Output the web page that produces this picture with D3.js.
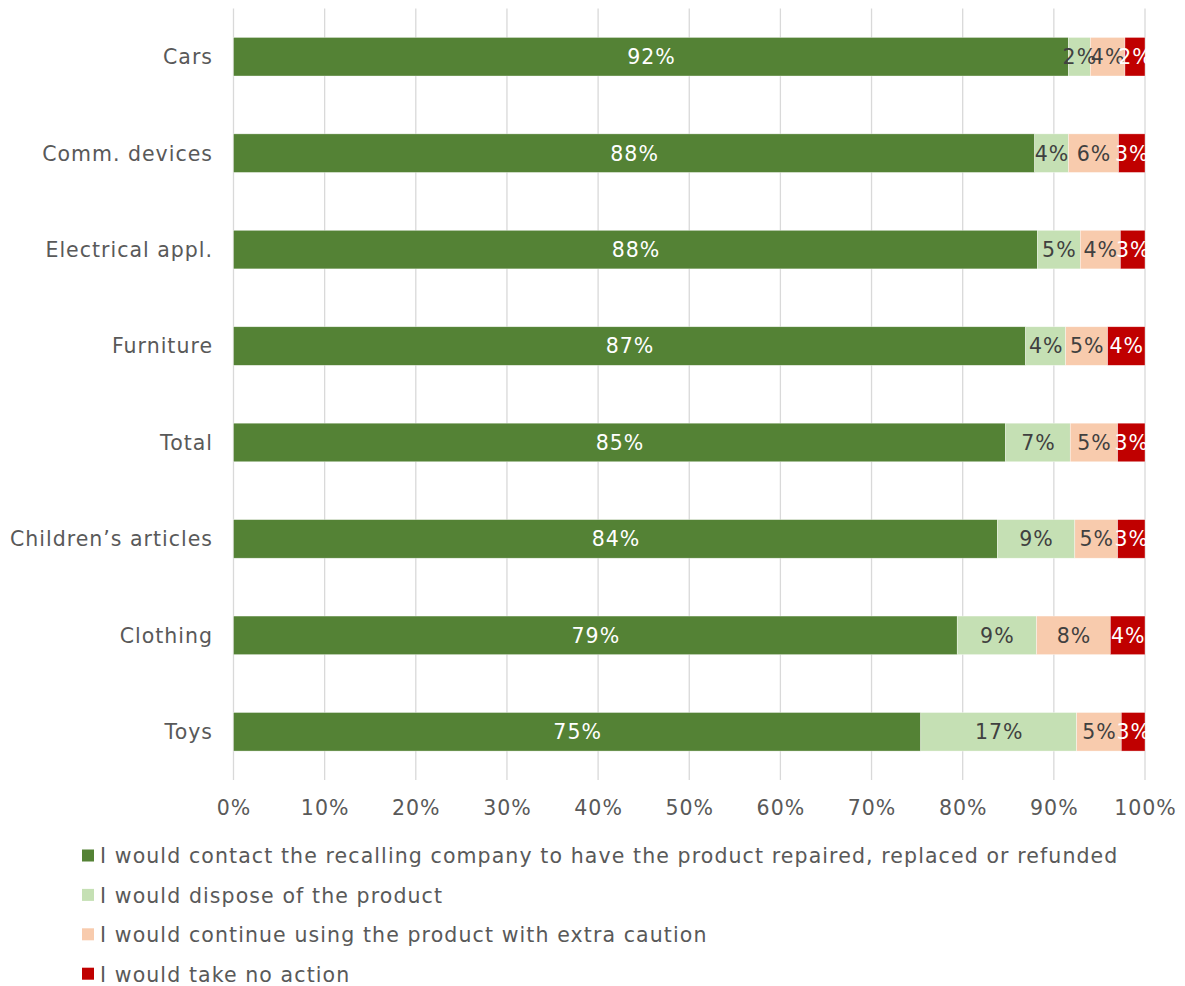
<!DOCTYPE html>
<html>
<head>
<meta charset="utf-8">
<script src="https://cdn.jsdelivr.net/npm/d3@7"></script>
<style>
  body { margin: 0; background: #fff; }
  text { font-family: "DejaVu Sans", Verdana, sans-serif; }
</style>
</head>
<body>
<svg id="chart" width="1185" height="986"></svg>
<script>
const categories = ['Cars', 'Comm. devices', 'Electrical appl.', 'Furniture', 'Total', 'Children\u2019s articles', 'Clothing', 'Toys'];
const seriesNames = [
  'I would contact the recalling company to have the product repaired, replaced or refunded',
  'I would dispose of the product',
  'I would continue using the product with extra caution',
  'I would take no action'
];
const contactValues  = [91.6, 87.9, 88.2, 86.9, 84.7, 83.8, 79.4, 75.4];
const disposeValues  = [2.4, 3.7, 4.7, 4.4, 7.1, 8.5, 8.7, 17.1];
const continueValues = [3.8, 5.5, 4.4, 4.6, 5.2, 4.7, 8.1, 4.9];
const noActionValues = [2.2, 2.9, 2.7, 4.1, 3.0, 3.0, 3.8, 2.6];
const xTicks = [0, 10, 20, 30, 40, 50, 60, 70, 80, 90, 100];

const colors = ['#548235', '#c5e0b4', '#f8cbad', '#c00000'];
const labelColors = ['#ffffff', '#404040', '#404040', '#ffffff'];

const rows = categories.map((c, i) => ({
  cat: c, s0: contactValues[i], s1: disposeValues[i], s2: continueValues[i], s3: noActionValues[i]
}));

const svg = d3.select('#chart');
const plotTop = 8.5;
const plotHeight = 771.5;

const x = d3.scaleLinear().domain([0, 100]).range([233.5, 1145]);
const y = d3.scaleBand().domain(categories).range([plotTop, plotTop + plotHeight]).paddingInner(0.6).paddingOuter(0.3);

// gridlines
svg.append('g')
  .selectAll('line')
  .data(xTicks)
  .enter()
  .append('line')
  .attr('x1', d => x(d)).attr('x2', d => x(d))
  .attr('y1', plotTop).attr('y2', plotTop + plotHeight)
  .attr('stroke', '#d9d9d9')
  .attr('stroke-width', 1.3);

const stack = d3.stack().keys(['s0', 's1', 's2', 's3']);
const series = stack(rows);

svg.append('g')
  .selectAll('g')
  .data(series)
  .enter()
  .append('g')
  .attr('fill', (d, i) => colors[i])
  .selectAll('rect')
  .data(d => d)
  .enter()
  .append('rect')
  .attr('x', d => x(d[0]))
  .attr('y', d => y(d.data.cat))
  .attr('width', d => x(d[1]) - x(d[0]))
  .attr('height', y.bandwidth())
  .attr('stroke', '#ffffff')
  .attr('stroke-width', 0.6)
  .attr('stroke-opacity', 0.6);

series.forEach((s, si) => {
  svg.append('g')
    .selectAll('text')
    .data(s)
    .enter()
    .append('text')
    .attr('x', d => (x(d[0]) + x(d[1])) / 2 + 0.5)
    .attr('y', d => y(d.data.cat) + y.bandwidth() / 2)
    .attr('dy', '0.36em')
    .attr('text-anchor', 'middle')
    .attr('fill', labelColors[si])
    .style('font-size', '20.5px')
    .style('letter-spacing', '1px')
    .text(d => `${Math.round(d[1] - d[0])}%`);
});

// category axis
svg.append('g')
  .selectAll('text')
  .data(categories)
  .enter()
  .append('text')
  .attr('x', 213)
  .attr('y', d => y(d) + y.bandwidth() / 2)
  .attr('dy', '0.36em')
  .attr('text-anchor', 'end')
  .attr('fill', '#595959')
  .style('font-size', '20.5px')
  .style('letter-spacing', '1px')
  .text(d => d);

// x axis labels
svg.append('g')
  .selectAll('text')
  .data(xTicks)
  .enter()
  .append('text')
  .attr('x', d => x(d) + 0.5)
  .attr('y', 808)
  .attr('dy', '0.36em')
  .attr('text-anchor', 'middle')
  .attr('fill', '#595959')
  .style('font-size', '20.5px')
  .style('letter-spacing', '1px')
  .text(d => `${d}%`);

// legend
const legend = svg.append('g')
  .selectAll('g')
  .data(seriesNames)
  .enter()
  .append('g')
  .attr('transform', (d, i) => `translate(82, ${856 + i * 39.4})`);

legend.append('rect')
  .attr('x', 0).attr('y', -6.5)
  .attr('width', 12).attr('height', 12)
  .attr('fill', (d, i) => colors[i]);

legend.append('text')
  .attr('x', 18)
  .attr('y', 0)
  .attr('dy', '0.36em')
  .attr('fill', '#595959')
  .style('font-size', '20.5px')
  .style('letter-spacing', '1.1px')
  .text(d => d);
</script>
</body>
</html>
